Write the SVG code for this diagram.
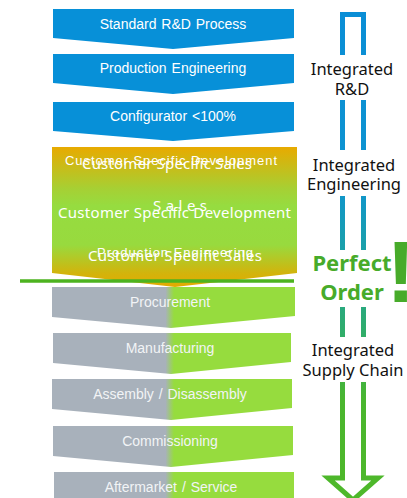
<svg xmlns="http://www.w3.org/2000/svg" width="407" height="498" viewBox="0 0 407 498">
<defs>
<linearGradient id="gBox" gradientUnits="userSpaceOnUse" x1="0" y1="147" x2="0" y2="287">
<stop offset="0" stop-color="#E8AA00"/>
<stop offset="0.3" stop-color="#A6D034"/>
<stop offset="0.42" stop-color="#96DC40"/>
<stop offset="0.7" stop-color="#98DA3E"/>
<stop offset="0.9" stop-color="#D2B40C"/>
<stop offset="1" stop-color="#E4AA00"/>
</linearGradient>
<linearGradient id="gSplit" gradientUnits="userSpaceOnUse" x1="52" y1="0" x2="296" y2="0">
<stop offset="0" stop-color="#A8B1BB"/>
<stop offset="0.465" stop-color="#A8B1BB"/>
<stop offset="0.5" stop-color="#96DC3E"/>
<stop offset="1" stop-color="#96DC3E"/>
</linearGradient>
<linearGradient id="gArrow" gradientUnits="userSpaceOnUse" x1="0" y1="12" x2="0" y2="498">
<stop offset="0" stop-color="#0A8ED6"/>
<stop offset="0.35" stop-color="#0E94D0"/>
<stop offset="0.5" stop-color="#1CA1A6"/>
<stop offset="0.66" stop-color="#30AD6A"/>
<stop offset="0.8" stop-color="#4AB62E"/>
<stop offset="1" stop-color="#4EB82A"/>
</linearGradient>
</defs>
<style>
.blue{fill:#0790D8}
.split{fill:url(#gSplit)}
.lbl{font-family:"Liberation Sans",Arial,sans-serif;font-size:14px;fill:#ffffff;text-anchor:middle;word-spacing:1px}
.glbl{fill:#F2F4F6}
.side{font-family:"Noto Sans","Open Sans",sans-serif;font-size:16.5px;fill:#111111;text-anchor:middle}
.po{font-family:"Noto Sans","Open Sans",sans-serif;font-weight:bold;font-size:22px;fill:#47AB2A;text-anchor:middle}
.garA{font-family:"Liberation Sans",Arial,sans-serif;font-size:13px;fill:#ffffff}
.garB{font-family:"Noto Sans","Open Sans",sans-serif;font-size:15px;fill:#ffffff}
.arr{fill:none;stroke:url(#gArrow);stroke-width:5;stroke-linejoin:miter}
</style>

<g id="connectors">
<path class="arr" d="M342.5,55 V14.5 H363.5 V55"/>
<path class="arr" d="M342.5,100 V150 M363.5,100 V150"/>
<path class="arr" d="M342.5,196 V250 M363.5,196 V250"/>
<path class="arr" d="M342.5,307 V337 M363.5,307 V337"/>
<path class="arr" d="M342.5,382 V478 H328 L353,500 L378,478 H363.5 V382"/>
</g>

<g id="standard-rd">
<path class="blue" d="M53,9 H294 V38 L173,49 L53,38 Z"/>
<text class="lbl" x="173" y="29">Standard R&amp;D Process</text>
</g>
<g id="production-engineering">
<path class="blue" d="M53,54 H294 V83 L173,94 L53,83 Z"/>
<text class="lbl" x="173" y="73">Production Engineering</text>
</g>
<g id="configurator">
<path class="blue" d="M53,102 H294 V131 L173,141 L53,131 Z"/>
<text class="lbl" x="173" y="121">Configurator &lt;100%</text>
</g>

<g id="customer-specific">
<path fill="url(#gBox)" d="M52,147 H297 V273 L175,287 L52,273 Z"/>
<text class="garA" x="65" y="165" textLength="212" lengthAdjust="spacing">Customer Specific Development</text>
<text class="garB" x="82" y="169" textLength="170" lengthAdjust="spacing">Customer Specific Sales</text>
<text class="garB" x="58" y="218" textLength="233" lengthAdjust="spacing">Customer Specific Development</text>
<text class="garB" x="153" y="211" textLength="54" lengthAdjust="spacing">Sales</text>
<text class="garA" x="97" y="257" textLength="156" lengthAdjust="spacing">Production Engineering</text>
<text class="garB" x="88" y="261" textLength="174" lengthAdjust="spacing">Customer Specific Sales</text>
</g>

<g id="divider">
<line x1="20" y1="281" x2="294" y2="281" stroke="#4DB31F" stroke-width="3.5"/>
</g>

<g id="procurement">
<path class="split" d="M52,287 H295 V316 L171,328 L52,317 Z"/>
<text class="lbl glbl" x="170" y="307">Procurement</text>
</g>
<g id="manufacturing">
<path class="split" d="M53,333 H291 V362 L171,374 L53,363 Z"/>
<text class="lbl glbl" x="170" y="353">Manufacturing</text>
</g>
<g id="assembly">
<path class="split" d="M52,379 H292 V408 L171,420 L52,409 Z"/>
<text class="lbl glbl" x="170" y="399">Assembly / Disassembly</text>
</g>
<g id="commissioning">
<path class="split" d="M53,426 H293 V455 L171,467 L53,456 Z"/>
<text class="lbl glbl" x="170" y="446">Commissioning</text>
</g>
<g id="aftermarket">
<path class="split" d="M54,472 H294 V501 L171,513 L54,502 Z"/>
<text class="lbl glbl" x="171" y="492">Aftermarket / Service</text>
</g>

<g id="label-rd">
<text class="side" x="352" y="75">Integrated</text>
<text class="side" x="352" y="95">R&amp;D</text>
</g>
<g id="label-engineering">
<text class="side" x="354" y="171">Integrated</text>
<text class="side" x="354" y="190">Engineering</text>
</g>
<g id="label-perfect-order">
<text class="po" x="352" y="271">Perfect</text>
<text class="po" x="352" y="300">Order</text>
<text x="401" y="302" font-family="Liberation Sans, Arial, sans-serif" font-weight="bold" font-size="88" fill="#47AB2A" text-anchor="middle">!</text>
</g>
<g id="label-supply">
<text class="side" x="353" y="356">Integrated</text>
<text class="side" x="353" y="376">Supply Chain</text>
</g>
</svg>
